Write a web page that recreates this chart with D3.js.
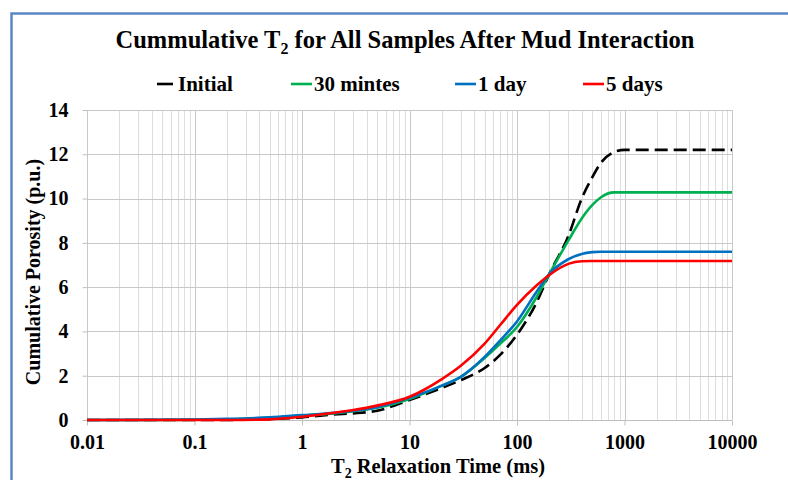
<!DOCTYPE html>
<html lang="en">
<head>
<meta charset="utf-8">
<title>Cummulative T2</title>
<script src="https://d3js.org/d3.v7.min.js"></script>
<style>
  body { margin: 0; background: #fff; }
  text { font-family: "Liberation Serif", "Times New Roman", serif; font-weight: bold; fill: #000; }
  .grid-minor line { stroke: #dedede; stroke-width: 1px; }
  .grid-major line { stroke: #c9c9c9; stroke-width: 1px; }
  .axis path, .axis line { stroke: #bfbfbf; }
  .series { fill: none; stroke-width: 2.6px; }
</style>
</head>
<body>
<div id="chart"></div>
<script>
var width = 788, height = 480;

// T2 relaxation time (ms)
var times = [0.01, 0.03, 0.1, 0.2, 0.5, 1, 2, 3, 5, 10, 20, 30, 50, 70, 100, 150, 200, 300, 400, 500, 600, 800, 1000, 2000, 5000, 10000];
var initial   = [0, 0, 0, 0.005, 0.04, 0.12, 0.25, 0.3, 0.42, 0.9, 1.45, 1.8, 2.35, 2.95, 3.85, 5.25, 6.6, 8.3, 10.0, 10.95, 11.6, 12.1, 12.2, 12.2, 12.2, 12.2];
var min30     = [0, 0, 0.01, 0.03, 0.1, 0.2, 0.3, 0.4, 0.55, 0.95, 1.55, 1.95, 2.8, 3.45, 4.2, 5.5, 6.6, 8.1, 9.1, 9.7, 10.05, 10.28, 10.28, 10.28, 10.28, 10.28];
var day1      = [0, 0.005, 0.02, 0.05, 0.12, 0.22, 0.32, 0.42, 0.58, 1.0, 1.55, 1.95, 2.85, 3.6, 4.45, 5.75, 6.6, 7.26, 7.5, 7.58, 7.6, 7.6, 7.6, 7.6, 7.6, 7.6];
var days5     = [0, 0, 0, 0, 0.03, 0.15, 0.33, 0.45, 0.65, 1.05, 1.85, 2.45, 3.45, 4.3, 5.2, 6.05, 6.55, 7.05, 7.17, 7.18, 7.18, 7.18, 7.18, 7.18, 7.18, 7.18];

var seriesNames = ["Initial", "30 mintes", "1 day", "5 days"];
var seriesColors = ["#000000", "#00b050", "#0070c0", "#ff0000"];
var seriesValues = [initial, min30, day1, days5];

var xTicks = [0.01, 0.1, 1, 10, 100, 1000, 10000];
var yTicks = [0, 2, 4, 6, 8, 10, 12, 14];

var svg = d3.select("#chart").append("svg")
    .attr("width", width)
    .attr("height", height);

// outer frame
svg.append("rect")
    .attr("x", 11.5).attr("y", 13.5)
    .attr("width", 800).attr("height", 500)
    .attr("fill", "none")
    .attr("stroke", "#5b86c6")
    .attr("stroke-width", 2.5);

var x = d3.scaleLog().domain([0.01, 10000]).range([87, 732]);
var y = d3.scaleLinear().domain([0, 14]).range([420, 110]);

// minor vertical grid (2..9 of every decade)
var minor = [];
for (var e = -2; e < 4; e++) {
  for (var k = 2; k <= 9; k++) minor.push(k * Math.pow(10, e));
}
svg.append("g").attr("class", "grid-minor")
  .selectAll("line").data(minor).enter().append("line")
    .attr("x1", function(d) { return Math.round(x(d)) + 0.5; })
    .attr("x2", function(d) { return Math.round(x(d)) + 0.5; })
    .attr("y1", y(14)).attr("y2", y(0));

var major = svg.append("g").attr("class", "grid-major");
major.selectAll("line.v").data(xTicks).enter().append("line")
    .attr("class", "v")
    .attr("x1", function(d) { return Math.round(x(d)) + 0.5; })
    .attr("x2", function(d) { return Math.round(x(d)) + 0.5; })
    .attr("y1", y(14)).attr("y2", y(0));
major.selectAll("line.h").data(yTicks).enter().append("line")
    .attr("class", "h")
    .attr("x1", x(0.01)).attr("x2", x(10000))
    .attr("y1", function(d) { return Math.round(y(d)) + 0.5; })
    .attr("y2", function(d) { return Math.round(y(d)) + 0.5; });

// axes
var xAxis = svg.append("g").attr("class", "axis")
    .attr("transform", "translate(0," + (Math.round(y(0)) + 0.5) + ")")
    .call(d3.axisBottom(x).tickValues(xTicks).tickSize(5).tickPadding(9)
      .tickFormat(function(d) { return d < 1 ? String(d) : d3.format("d")(d); }));
xAxis.select(".domain").attr("d", "M" + x(0.01) + ",0H" + x(10000));
xAxis.selectAll("text").style("font-size", "20px").attr("fill", "#000");

var yAxis = svg.append("g").attr("class", "axis")
    .attr("transform", "translate(" + (Math.round(x(0.01)) + 0.5) + ",0)")
    .call(d3.axisLeft(y).tickValues(yTicks).tickSize(5).tickPadding(14));
yAxis.select(".domain").remove();
yAxis.selectAll("text").style("font-size", "20px").attr("fill", "#000");

// series
var line = d3.line()
    .x(function(d) { return x(d[0]); })
    .y(function(d) { return y(d[1]); })
    .curve(d3.curveMonotoneX);

seriesValues.forEach(function(vals, i) {
  svg.append("path")
    .attr("class", "series")
    .attr("d", line(times.map(function(t, j) { return [t, vals[j]]; })))
    .attr("stroke", seriesColors[i])
    .attr("stroke-dasharray", i === 0 ? "13,6" : null);
});

// title
var title = svg.append("text")
    .attr("x", 405).attr("y", 48)
    .attr("text-anchor", "middle")
    .style("font-size", "24.5px");
title.append("tspan").text("Cummulative T");
title.append("tspan").attr("dy", 6).style("font-size", "16px").text("2");
title.append("tspan").attr("dy", -6).text(" for All Samples After Mud Interaction");

// legend
var legendX = [157, 291, 455, 583];
var legend = svg.append("g");
seriesNames.forEach(function(name, i) {
  legend.append("line")
    .attr("x1", legendX[i]).attr("x2", legendX[i] + (i === 0 ? 16 : 21))
    .attr("y1", 84).attr("y2", 84)
    .attr("stroke", seriesColors[i])
    .attr("stroke-width", 2.6);
  legend.append("text")
    .attr("x", legendX[i] + (i === 0 ? 21 : 23))
    .attr("y", 91)
    .style("font-size", "21px")
    .text(name);
});

// axis titles
svg.append("text")
    .attr("transform", "translate(40,272) rotate(-90)")
    .attr("text-anchor", "middle")
    .style("font-size", "20px")
    .text("Cumulative Porosity (p.u.)");

var xt = svg.append("text")
    .attr("x", 438).attr("y", 473)
    .attr("text-anchor", "middle")
    .style("font-size", "20.5px");
xt.append("tspan").text("T");
xt.append("tspan").attr("dy", 5).style("font-size", "14px").text("2");
xt.append("tspan").attr("dy", -5).text(" Relaxation Time (ms)");
</script>
</body>
</html>
